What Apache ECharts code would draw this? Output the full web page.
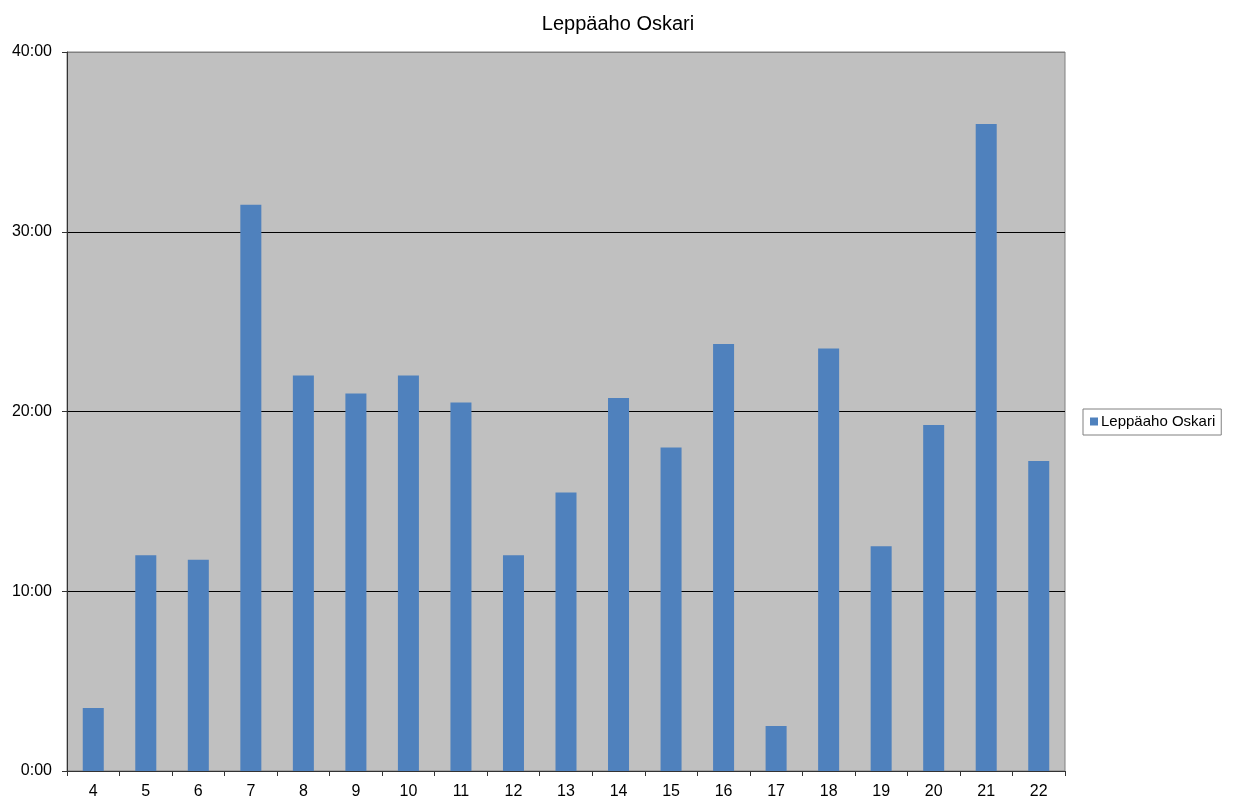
<!DOCTYPE html>
<html>
<head>
<meta charset="utf-8">
<script src="https://cdn.jsdelivr.net/npm/echarts@6/dist/echarts.min.js"></script>
<style>
  html, body { margin: 0; padding: 0; background: #fff; }
  #chart { width: 1236px; height: 800px; }
</style>
</head>
<body>
<div id="chart"></div>
<script>
// rounds 4..22, times in seconds
const rounds = ['4','5','6','7','8','9','10','11','12','13','14','15','16','17','18','19','20','21','22']
const times = [210, 720, 705, 1890, 1320, 1260, 1320, 1230, 720, 930, 1245, 1080, 1425, 150, 1410, 750, 1155, 2160, 1035]
const seriesName = 'Leppäaho Oskari'

const fmt = v => {
  const m = Math.floor(v / 60)
  const s = v % 60
  return m + ':' + (s < 10 ? '0' + s : s)
}

const chart = echarts.init(document.getElementById('chart'))
chart.setOption({
  animation: false,
  textStyle: { fontFamily: 'Liberation Sans, Arial, sans-serif', color: '#000' },
  title: {
    text: seriesName,
    left: 'center',
    top: 9,
    textStyle: { fontSize: 20, fontWeight: 'normal', color: '#000' }
  },
  legend: {
    left: 1083,
    top: 409,
    itemWidth: 8,
    itemHeight: 8,
    itemGap: 4,
    icon: 'rect',
    borderColor: '#808080',
    borderWidth: 1,
    padding: [5, 6, 6, 7],
    textStyle: { fontSize: 15, color: '#000', padding: [0, 0, 0, -2] },
    data: [seriesName]
  },
  grid: {
    left: 67,
    right: 171,
    top: 52,
    bottom: 29,
    show: true,
    backgroundColor: '#c0c0c0',
    borderColor: '#808080',
    borderWidth: 1
  },
  xAxis: {
    type: 'category',
    data: rounds,
    axisLine: { lineStyle: { color: '#333' } },
    axisTick: { show: true, length: 5, lineStyle: { color: '#333' } },
    axisLabel: { fontSize: 16, color: '#000', margin: 13 }
  },
  yAxis: {
    type: 'value',
    min: 0,
    max: 2400,
    interval: 600,
    axisLine: { show: true, lineStyle: { color: '#333' } },
    axisTick: { show: true, length: 5, lineStyle: { color: '#333' } },
    axisLabel: { fontSize: 16, color: '#000', margin: 15, formatter: fmt },
    splitLine: { lineStyle: { color: ['#000', '#000', '#000', '#000', '#808080'], width: 1 } }
  },
  series: [{
    name: seriesName,
    type: 'bar',
    data: times,
    barWidth: '40%',
    itemStyle: { color: '#4f81bd' }
  }]
})
</script>
</body>
</html>
